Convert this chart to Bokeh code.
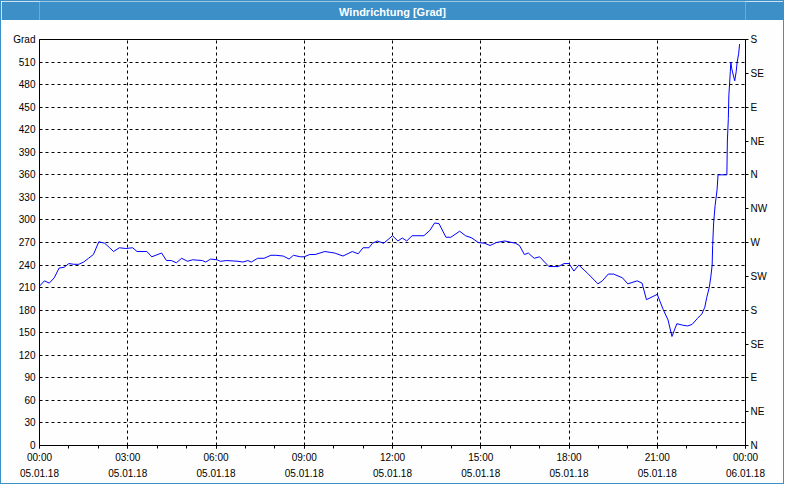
from bokeh.plotting import figure
from bokeh.models import Range1d, LinearAxis, FixedTicker
from bokeh.layouts import column
from bokeh.core.properties import value
from bokeh.embed import file_html
from bokeh.resources import INLINE

# ---------------- data ----------------
title_text = "Windrichtung [Grad]"
y_unit = "Grad"

times = ["00:00", "00:10", "00:20", "00:30", "00:40", "00:50", "01:00", "01:10", "01:20", "01:30",
         "01:40", "01:50", "02:01", "02:13", "02:23", "02:31", "02:43", "02:56", "03:10", "03:19",
         "03:39", "03:49", "04:09", "04:19", "04:29", "04:39", "04:50", "05:02", "05:12", "05:32",
         "05:39", "05:49", "06:02", "06:09", "06:22", "06:45", "06:55", "07:05", "07:12", "07:25",
         "07:38", "07:52", "08:02", "08:17", "08:29", "08:38", "08:52", "09:00", "09:11", "09:22",
         "09:42", "10:02", "10:19", "10:38", "10:50", "11:00", "11:12", "11:19", "11:29", "11:42",
         "12:00", "12:11", "12:20", "12:29", "12:40", "12:52", "13:04", "13:16", "13:26", "13:35",
         "13:49", "13:59", "14:17", "14:29", "14:42", "14:55", "15:08", "15:19", "15:32", "15:49",
         "16:11", "16:19", "16:29", "16:37", "16:49", "17:00", "17:19", "17:38", "17:50", "18:00",
         "18:10", "18:20", "18:38", "18:59", "19:08", "19:20", "19:31", "19:49", "20:00", "20:19",
         "20:29", "20:38", "21:00", "21:12", "21:22", "21:30", "21:40", "21:52", "22:02", "22:11",
         "22:22", "22:31", "22:37", "22:41", "22:46", "22:49", "22:52", "22:53", "22:55", "22:58",
         "23:02", "23:04", "23:22", "23:23", "23:25", "23:26", "23:29", "23:30", "23:32", "23:38",
         "23:41", "23:43", "23:46", "23:48"]

direction = [212, 219, 216, 223, 236, 237, 242, 241, 241, 244,
             249, 254, 271, 269, 263, 258, 263, 262, 263, 258,
             258, 251, 256, 246, 246, 243, 249, 245, 247, 246,
             244, 248, 247, 245, 246, 245, 244, 246, 244, 249,
             249, 253, 253, 252, 248, 253, 251, 251, 254, 254,
             258, 256, 252, 258, 255, 263, 263, 269, 272, 269,
             279, 272, 276, 272, 279, 279, 279, 286, 296, 295,
             277, 277, 285, 279, 276, 270, 269, 266, 270, 272,
             269, 266, 254, 256, 249, 251, 238, 238, 242, 242,
             232, 240, 229, 215, 219, 228, 228, 223, 215, 219,
             216, 194, 201, 181, 167, 145, 162, 160, 159, 161,
             169, 175, 184, 197, 210, 223, 240, 266, 296, 319,
             340, 360, 360, 405, 435, 465, 497, 510, 501, 485,
             497, 510, 521, 534]

hour_ticks = [0, 3, 6, 9, 12, 15, 18, 21, 24]
time_labels = ["00:00", "03:00", "06:00", "09:00", "12:00", "15:00", "18:00", "21:00", "00:00"]
date_labels = ["05.01.18", "05.01.18", "05.01.18", "05.01.18", "05.01.18",
               "05.01.18", "05.01.18", "05.01.18", "06.01.18"]

deg_ticks = list(range(0, 541, 30))
compass_ticks = list(range(0, 541, 45))
compass_labels = ["N", "NE", "E", "SE", "S", "SW", "W", "NW", "N", "NE", "E", "SE", "S"]

# ---------------- styles ----------------
BLUE = "#3d8fc7"
BG = "#fdfefd"
FONT = "Liberation Sans"
FS = "10px"

hours = [int(t[:2]) + int(t[3:]) / 60.0 for t in times]

# title bar
tb = figure(width=782, height=19, output_backend="svg", toolbar_location=None,
            x_range=Range1d(0, 1), y_range=Range1d(0, 1),
            min_border_left=0, min_border_right=0, min_border_top=0, min_border_bottom=0)
tb.axis.visible = False
tb.grid.visible = False
tb.outline_line_color = None
tb.background_fill_color = BLUE
tb.border_fill_color = BLUE
tb.text(x=[0.5], y=[0.45], text=[title_text], text_align="center", text_baseline="middle",
        text_color="white", text_font=value(FONT), text_font_size="11px", text_font_style="bold")

# main plot
p = figure(width=782, height=463, output_backend="svg", toolbar_location=None,
           x_range=Range1d(0, 24), y_range=Range1d(0, 540),
           min_border_left=38, min_border_right=38, min_border_top=19, min_border_bottom=38)
p.background_fill_color = BG
p.border_fill_color = BG
p.outline_line_color = "black"
p.outline_line_width = 1

p.line(hours, direction, line_color="#0000ff", line_width=1)

# bottom axis
xa = p.xaxis[0]
xa.ticker = FixedTicker(ticks=hour_ticks, minor_ticks=list(range(0, 25)))
xa.major_label_overrides = {h: f"{t}\n{d}" for h, t, d in zip(hour_ticks, time_labels, date_labels)}
xa.major_tick_in = 0
xa.major_tick_out = 3
xa.minor_tick_in = 0
xa.minor_tick_out = 3
xa.major_label_standoff = 3
xa.axis_line_color = "black"
xa.major_tick_line_color = "black"
xa.minor_tick_line_color = "black"
xa.major_label_text_font = FONT
xa.major_label_text_font_size = FS
xa.major_label_text_color = "black"
xa.major_label_text_line_height = 1.5

# left axis
ya = p.yaxis[0]
ya.ticker = FixedTicker(ticks=deg_ticks, minor_ticks=[])
ya.major_label_overrides = {540: y_unit}
ya.major_tick_in = 0
ya.major_tick_out = 0
ya.minor_tick_line_color = None
ya.major_label_standoff = 4
ya.axis_line_color = "black"
ya.major_label_text_font = FONT
ya.major_label_text_font_size = FS
ya.major_label_text_color = "black"

# right axis (compass)
ra = LinearAxis(ticker=FixedTicker(ticks=compass_ticks, minor_ticks=[]))
ra.major_label_overrides = {d: c for d, c in zip(compass_ticks, compass_labels)}
ra.major_tick_in = 0
ra.major_tick_out = 3
ra.minor_tick_line_color = None
ra.major_label_standoff = 2
ra.axis_line_color = "black"
ra.major_tick_line_color = "black"
ra.major_label_text_font = FONT
ra.major_label_text_font_size = FS
ra.major_label_text_color = "black"
p.add_layout(ra, "right")

# grids
p.xgrid.ticker = FixedTicker(ticks=hour_ticks[1:-1])
p.ygrid.ticker = FixedTicker(ticks=deg_ticks[1:-1])
for g in (p.xgrid[0], p.ygrid[0]):
    g.grid_line_color = "black"
    g.grid_line_dash = "3 3"
    g.grid_line_width = 1
    g.grid_line_alpha = 1.0

layout = column(tb, p, styles={"border": f"1px solid {BLUE}", "background-color": BG})

open("out.html", "w").write(file_html(layout, INLINE))
